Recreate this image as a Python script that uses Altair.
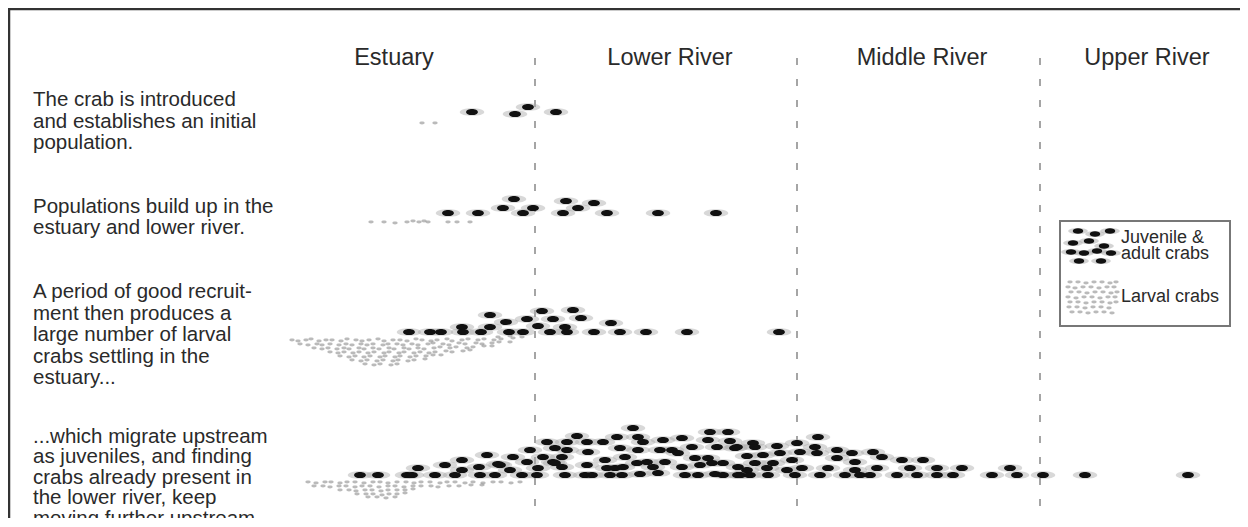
import altair as alt
import pandas as pd

# ---------------- data (diagram units) ----------------
# Juvenile & adult crabs
row1_adult_x = [472, 515, 528, 556]
row1_adult_y = [112, 114, 107, 112]

row2_adult_x = [448, 478, 503, 514, 523, 533, 563, 566, 578, 594, 607, 658, 716]
row2_adult_y = [213, 213, 208, 199, 213, 208, 213, 201, 208, 203, 213, 213, 213]

row3_adult_x = [409, 430, 441, 462, 463, 481, 490, 490, 506, 509, 523, 527, 538,
                542, 550, 553, 565, 567, 573, 581, 594, 611, 620, 646, 687, 779]
row3_adult_y = [332, 332, 332, 327, 332, 332, 327, 315, 322, 332, 332, 319, 326,
                311, 332, 319, 327, 332, 310, 318, 332, 323, 332, 332, 332, 332]

row4_adult_x = [
    360, 378, 407, 412, 435, 455, 480, 495, 418, 445, 462, 462, 479, 487, 498,
    513, 530, 547, 555, 567, 577, 587, 567, 543, 562, 588, 603, 617, 633, 638,
    643, 620, 625, 638, 663, 660, 672, 682, 692, 708, 710, 717, 708, 553, 562,
    587, 607, 615, 637, 647, 665, 682, 700, 712, 510, 522, 537, 565, 585, 610,
    640, 658, 685, 698, 715, 527, 538, 500, 592, 622,
    695, 678, 653, 623, 605, 555,
    723, 738, 728, 730, 735, 723, 738, 737,
    753, 755, 777, 797, 818, 815, 800, 780, 763, 747, 837, 852, 873, 882, 855,
    837, 817, 792, 773, 755, 902, 923, 910, 937, 962, 1010, 877, 855, 828, 802,
    787, 767, 747,
    740, 750, 768, 795, 820, 845, 860, 870, 897, 917, 937, 953, 992, 1017, 1043,
    1085, 1188]
row4_adult_y = [
    475, 475, 475, 475, 475, 475, 475, 475, 468, 465, 460, 470, 467, 455, 464,
    457, 450, 442, 448, 442, 436, 442, 450, 457, 457, 452, 442, 437, 428, 437,
    442, 448, 457, 450, 440, 450, 450, 438, 447, 440, 432, 447, 458, 462, 467,
    465, 468, 468, 463, 462, 462, 467, 465, 463, 470, 475, 475, 475, 475, 475,
    474, 473, 475, 475, 474, 462, 468, 465, 475, 475,
    458, 453, 467, 467, 460, 463,
    475, 475, 432, 441, 448, 463, 467, 447,
    443, 447, 446, 443, 437, 447, 452, 453, 455, 456, 450, 453, 452, 457, 462,
    458, 453, 460, 463, 463, 460, 460, 468, 468, 468, 468, 468, 470, 468, 468,
    470, 468, 470,
    475, 475, 475, 475, 475, 475, 475, 475, 475, 475, 475, 475, 475, 475, 475,
    475, 475]

legend_adult_x = [1078, 1095, 1110, 1073, 1089, 1104, 1071, 1084, 1097, 1111, 1079, 1101]
legend_adult_y = [231, 234, 231, 243, 241, 246, 252, 253, 251, 253, 261, 261]

# Larval crabs
row1_larva_x = [422, 435]
row1_larva_y = [123, 123]

row2_larva_x = [371, 384, 395, 407, 413, 419, 424, 428, 448, 457, 470]
row2_larva_y = [222, 222, 223, 222, 221, 222, 221, 222, 222, 222, 222]

row3_larva_x = [
    292, 298, 306, 311, 319, 326, 332, 341, 347, 356, 362, 369, 378, 384, 393, 400,
    407, 416, 422, 431, 437, 447, 452, 462, 468, 478, 484, 494, 501, 513, 522,
    300, 308, 317, 322, 330, 339, 346, 352, 361, 367, 373, 383, 388, 397, 403,
    412, 418, 428, 433, 443, 449, 459, 465, 476, 482, 492, 499, 510,
    314, 322, 328, 337, 344, 349, 359, 364, 373, 379, 389, 394, 404, 409, 418,
    424, 434, 440, 450, 456, 467, 473, 484, 492,
    330, 338, 344, 353, 359, 368, 374, 384, 389, 399, 404, 414, 420, 429, 435,
    446, 452, 463, 470,
    340, 349, 355, 364, 370, 380, 385, 395, 400, 410, 416, 426, 433, 441,
    352, 361, 367, 377, 383, 393, 398, 408, 414, 425,
    365, 374, 380, 391, 397,
    498, 510, 520]
row3_larva_y = [
    340, 341, 340, 339, 341, 340, 340, 341, 339, 340, 341, 340, 339, 341, 340, 340,
    341, 339, 340, 341, 340, 339, 341, 340, 339, 340, 339, 340, 339, 338, 337,
    344, 345, 344, 345, 344, 345, 344, 345, 344, 345, 344, 345, 344, 344, 345,
    344, 345, 344, 343, 344, 345, 343, 344, 343, 344, 343, 342, 342,
    348, 349, 348, 349, 348, 349, 348, 349, 348, 349, 348, 349, 348, 349, 348,
    349, 348, 347, 348, 347, 348, 347, 346, 346,
    352, 353, 352, 353, 352, 353, 352, 353, 352, 353, 352, 353, 352, 353, 352,
    351, 352, 351, 350,
    356, 357, 356, 357, 356, 357, 356, 357, 356, 357, 356, 356, 355, 355,
    360, 361, 360, 361, 360, 361, 360, 361, 360, 359,
    364, 365, 364, 365, 364,
    337, 336, 334]

row4_larva_x = [
    308, 316, 325, 331, 340, 347, 355, 364, 373, 380, 388, 397, 406, 414, 421,
    430, 440, 447, 455, 465, 473, 483, 493, 501, 511, 520,
    314, 323, 330, 339, 346, 355, 362, 370, 379, 388, 395, 404, 413, 421, 431,
    438, 449, 459, 471, 482,
    340, 349, 356, 365, 372, 381, 388, 397, 405, 413,
    357, 366, 373, 382, 389, 397, 405,
    368, 377, 386, 395]
row4_larva_y = [
    482, 483, 482, 482, 483, 482, 482, 483, 482, 482, 483, 482, 482, 483, 482,
    482, 483, 482, 482, 483, 482, 483, 482, 482, 483, 482,
    486, 486, 487, 486, 486, 487, 486, 486, 487, 486, 486, 487, 486, 486, 486,
    487, 486, 486, 485, 485,
    490, 490, 491, 490, 490, 491, 490, 490, 490, 489,
    494, 494, 494, 495, 494, 494, 493,
    497, 497, 498, 497]

legend_larva_x = [
    1070, 1078, 1086, 1094, 1102, 1110, 1116,
    1068, 1075, 1083, 1091, 1099, 1107, 1114,
    1071, 1079, 1087, 1095, 1103, 1111, 1117,
    1068, 1076, 1084, 1092, 1100, 1108, 1115,
    1070, 1078, 1086, 1094, 1102, 1110, 1116,
    1069, 1077, 1085, 1093, 1101, 1109,
    1072, 1080, 1088, 1096, 1104, 1112]
legend_larva_y = [
    282, 282, 283, 282, 282, 283, 282,
    287, 288, 287, 287, 288, 287, 287,
    292, 292, 293, 292, 292, 293, 292,
    297, 298, 297, 297, 298, 297, 297,
    302, 302, 303, 302, 302, 303, 302,
    307, 307, 308, 307, 307, 308,
    312, 312, 313, 312, 312, 313]

# Text
zone_names = ["Estuary", "Lower River", "Middle River", "Upper River"]
zone_centres = [394, 670, 922, 1147]
zone_bounds = [535, 797, 1040]

paragraphs = [
    ["The crab is introduced", "and establishes an initial", "population."],
    ["Populations build up in the", "estuary and lower river."],
    ["A period of good recruit-", "ment then produces a", "large number of larval",
     "crabs settling in the", "estuary..."],
    ["...which migrate upstream", "as juveniles, and finding", "crabs already present in",
     "the lower river, keep", "moving further upstream."],
]
paragraph_top = [100, 207, 292, 437]
paragraph_leading = [21.5, 21, 21.5, 20.4]

legend_lines = ["Juvenile &", "adult crabs", "Larval crabs"]
legend_line_y = [237.5, 253.5, 297]

# ---------------- build tables ----------------
adult = pd.DataFrame({
    "x": row1_adult_x + row2_adult_x + row3_adult_x + row4_adult_x,
    "y": row1_adult_y + row2_adult_y + row3_adult_y + row4_adult_y,
})
legend_adult = pd.DataFrame({"x": legend_adult_x, "y": legend_adult_y})
larva = pd.DataFrame({
    "x": row1_larva_x + row2_larva_x + row3_larva_x + row4_larva_x + legend_larva_x,
    "y": row1_larva_y + row2_larva_y + row3_larva_y + row4_larva_y + legend_larva_y,
})

text_rows = []
for lines, top, lead in zip(paragraphs, paragraph_top, paragraph_leading):
    for i, t in enumerate(lines):
        text_rows.append({"x": 33, "y": top + i * lead, "t": t})
para_df = pd.DataFrame(text_rows)
zone_df = pd.DataFrame({"x": zone_centres, "y": [58] * 4, "t": zone_names})
bound_df = pd.DataFrame({"x": zone_bounds, "y": [58] * 3, "y2": [520] * 3})
leg_text_df = pd.DataFrame({"x": [1121] * 3, "y": legend_line_y, "t": legend_lines})

W, H = 1232, 510
xs = alt.Scale(domain=[8, 8 + W], zero=False, nice=False)
ys = alt.Scale(domain=[8, 8 + H], zero=False, nice=False, reverse=True)
X = lambda f="x": alt.X(f"{f}:Q", scale=xs, axis=None)
Y = lambda f="y": alt.Y(f"{f}:Q", scale=ys, axis=None)

ELLIPSE = "M-1,0C-1,-0.7,1,-0.7,1,0C1,0.7,-1,0.7,-1,0Z"
FLAT = "M-1,0C-1,-0.42,1,-0.42,1,0C1,0.42,-1,0.42,-1,0Z"
FONT = "Liberation Sans"

frame_top = alt.Chart(pd.DataFrame({"x": [8], "x2": [8 + W], "y": [9]})).mark_rule(
    color="#333333", strokeWidth=2.5).encode(x=X(), x2="x2:Q", y=Y())
frame_left = alt.Chart(pd.DataFrame({"x": [9], "y": [8], "y2": [8 + H]})).mark_rule(
    color="#333333", strokeWidth=2.5).encode(x=X(), y=Y(), y2="y2:Q")

bounds = alt.Chart(bound_df).mark_rule(
    color="#6a6a6a", strokeWidth=1.2, strokeDash=[7, 14]).encode(x=X(), y=Y(), y2="y2:Q")

zones = alt.Chart(zone_df).mark_text(
    font=FONT, fontSize=23.5, color="#2a2a2a", align="center", baseline="middle"
).encode(x=X(), y=Y(), text="t:N")

paras = alt.Chart(para_df).mark_text(
    font=FONT, fontSize=20.5, color="#2a2a2a", align="left", baseline="middle"
).encode(x=X(), y=Y(), text="t:N")

legend_box = alt.Chart(pd.DataFrame({"x": [1060], "x2": [1230], "y": [221], "y2": [326]})).mark_rect(
    fill="white", stroke="#777777", strokeWidth=2).encode(x=X(), x2="x2:Q", y=Y(), y2="y2:Q")
legend_text = alt.Chart(leg_text_df).mark_text(
    font=FONT, fontSize=18, color="#2a2a2a", align="left", baseline="middle"
).encode(x=X(), y=Y(), text="t:N")

larva_pts = alt.Chart(larva).mark_point(
    shape=ELLIPSE, filled=True, size=28, color="#8c8c8c", opacity=0.6
).encode(x=X(), y=Y())

adult_halo = alt.Chart(adult).mark_point(
    shape=FLAT, filled=True, size=600, color="#a8a8a8", opacity=0.45
).encode(x=X(), y=Y())
adult_body = alt.Chart(adult).mark_point(
    shape=ELLIPSE, filled=True, size=140, color="#111111", opacity=1
).encode(x=X(), y=Y())

leg_halo = alt.Chart(legend_adult).mark_point(
    shape=FLAT, filled=True, size=380, color="#a8a8a8", opacity=0.5
).encode(x=X(), y=Y())
leg_body = alt.Chart(legend_adult).mark_point(
    shape=ELLIPSE, filled=True, size=110, color="#111111", opacity=1
).encode(x=X(), y=Y())

chart = alt.layer(
    frame_top, frame_left, bounds, zones, paras, legend_box, legend_text,
    larva_pts, adult_halo, adult_body, leg_halo, leg_body
).properties(
    width=W, height=H, padding=0, autosize=alt.AutoSizeParams(type="none")
).configure_view(stroke=None)

chart.save("out.html", embed_options={"renderer": "svg", "actions": False})
